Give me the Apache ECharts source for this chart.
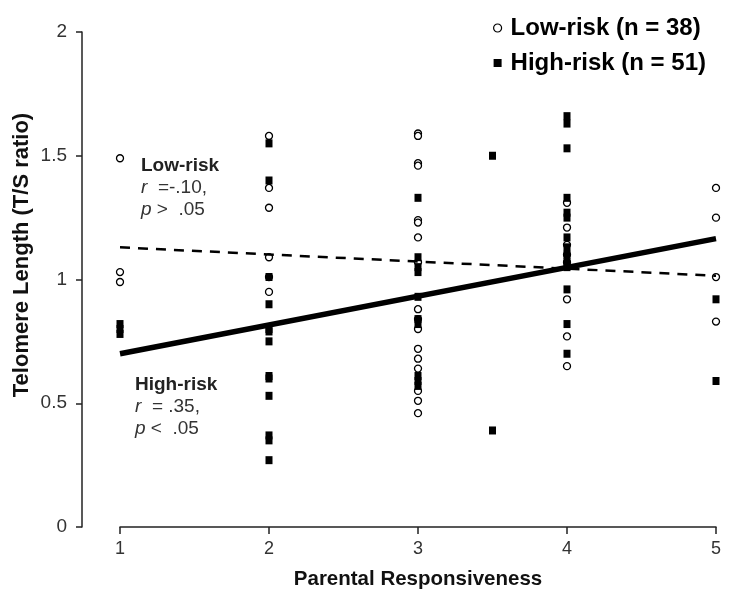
<!DOCTYPE html>
<html>
<head>
<meta charset="utf-8">
<script src="https://cdn.jsdelivr.net/npm/echarts@6/dist/echarts.min.js"></script>
<style>html,body{margin:0;padding:0;background:#fff}#c{width:750px;height:600px}</style>
</head>
<body>
<div id="c"></div>
<script>
// Data
var xTicks = [1, 2, 3, 4, 5];
var yTicks = [0, 0.5, 1, 1.5, 2];
var lowRiskName = 'Low-risk (n = 38)';
var highRiskName = 'High-risk (n = 51)';
var lowRisk = [
  [1,1.49],[1,1.03],[1,0.99],
  [2,1.58],[2,1.37],[2,1.29],[2,1.09],[2,1.01],[2,0.95],
  [3,1.59],[3,1.58],[3,1.47],[3,1.46],[3,1.24],[3,1.23],[3,1.17],[3,1.07],[3,0.88],[3,0.84],[3,0.80],[3,0.72],[3,0.68],[3,0.64],[3,0.55],[3,0.51],[3,0.46],
  [4,1.31],[4,1.21],[4,1.14],[4,1.10],[4,1.07],[4,0.92],[4,0.77],[4,0.65],
  [5,1.37],[5,1.25],[5,1.01],[5,0.83]
];
var highRisk = [
  [1,0.82],[1,0.80],[1,0.78],
  [2,1.55],[2,1.40],[2,1.01],[2,0.90],[2,0.80],[2,0.79],[2,0.75],[2,0.61],[2,0.60],[2,0.53],[2,0.37],[2,0.35],[2,0.27],
  [3,1.33],[3,1.09],[3,1.05],[3,1.03],[3,0.93],[3,0.84],[3,0.82],[3,0.61],[3,0.59],[3,0.57],
  [3.5,1.50],[3.5,0.39],
  [4,1.66],[4,1.63],[4,1.53],[4,1.33],[4,1.27],[4,1.25],[4,1.17],[4,1.13],[4,1.10],[4,1.07],[4,1.05],[4,0.96],[4,0.82],[4,0.70],
  [5,0.92],[5,0.59]
];
var lowRiskFit = [[1,1.13],[5,1.015]];
var highRiskFit = [[1,0.70],[5,1.165]];
var lowLabel = ['Low-risk', 'r', '  =-.10,', 'p', ' >  .05'];
var highLabel = ['High-risk', 'r', '  = .35,', 'p', ' <  .05'];

var chart = echarts.init(document.getElementById('c'));
var FONT = '"Liberation Sans", Arial, sans-serif';

function annot(lbl, left, top) {
  return {
    type: 'text', left: left, top: top, z: 10,
    style: {
      text: '{b|' + lbl[0] + '}\n{i|' + lbl[1] + '}{n|' + lbl[2] + '}\n{i|' + lbl[3] + '}{n|' + lbl[4] + '}',
      fill: '#222',
      rich: {
        b: {fontFamily: FONT, fontSize: 19, fontWeight: 'bold', fill: '#222', lineHeight: 22},
        i: {fontFamily: FONT, fontSize: 19, fontStyle: 'italic', fill: '#333', lineHeight: 22},
        n: {fontFamily: FONT, fontSize: 19, fill: '#333', lineHeight: 22}
      }
    }
  };
}

chart.setOption({
  animation: false,
  backgroundColor: '#fff',
  grid: {left: 120, right: 34, top: 32, bottom: 73},
  legend: {
    orient: 'vertical', left: 488, top: 11, itemGap: 11,
    itemWidth: 8, itemHeight: 8,
    textStyle: {fontFamily: FONT, fontSize: 24, fontWeight: 'bold', color: '#000', padding: [0,0,0,4]},
    data: [
      {name: lowRiskName, icon: 'circle', itemStyle: {color: '#fff', borderColor: '#000', borderWidth: 1.2}},
      {name: highRiskName, icon: 'rect', itemStyle: {color: '#000'}}
    ]
  },
  xAxis: {
    type: 'value', min: 1, max: 5, interval: 1,
    name: 'Parental Responsiveness', nameLocation: 'middle', nameGap: 42,
    nameTextStyle: {fontFamily: FONT, fontSize: 20.5, fontWeight: 'bold', color: '#111'},
    axisLine: {show: true, lineStyle: {color: '#222', width: 1.5}},
    axisTick: {show: true, length: 7, lineStyle: {color: '#222', width: 1.5}},
    axisLabel: {fontFamily: FONT, fontSize: 18, color: '#333', margin: 13,
      formatter: function (v) { return xTicks.indexOf(v) >= 0 ? String(v) : ''; }},
    splitLine: {show: false}
  },
  yAxis: {
    type: 'value', min: 0, max: 2, interval: 0.5, offset: 38,
    axisLine: {show: true, lineStyle: {color: '#222', width: 1.5}},
    axisTick: {show: true, length: 6, lineStyle: {color: '#222', width: 1.5}},
    axisLabel: {fontFamily: FONT, fontSize: 19, color: '#333', margin: 15,
      formatter: function (v) { return yTicks.indexOf(v) >= 0 ? String(v) : ''; }},
    splitLine: {show: false}
  },
  graphic: [
    {
      type: 'text', x: 22, y: 255, rotation: Math.PI / 2,
      style: {text: 'Telomere Length (T/S ratio)', fontFamily: FONT, fontSize: 22, fontWeight: 'bold',
        fill: '#111', align: 'center', verticalAlign: 'middle'}
    },
    annot(lowLabel, 141, 156),
    annot(highLabel, 135, 375)
  ],
  series: [
    {
      name: lowRiskName, type: 'scatter', data: lowRisk, symbol: 'circle', symbolSize: 7, z: 3,
      itemStyle: {color: '#fff', borderColor: '#000', borderWidth: 1.3, opacity: 1}
    },
    {
      name: highRiskName, type: 'scatter', data: highRisk, symbol: 'rect', symbolSize: [7, 8], z: 4,
      itemStyle: {color: '#000', opacity: 1}
    },
    {
      name: 'lowFit', type: 'line', data: lowRiskFit, showSymbol: false, symbol: 'none', z: 5,
      lineStyle: {color: '#000', width: 2.5, type: [10, 8]}
    },
    {
      name: 'highFit', type: 'line', data: highRiskFit, showSymbol: false, symbol: 'none', z: 5,
      lineStyle: {color: '#000', width: 5.5}
    }
  ]
});
</script>
</body>
</html>
